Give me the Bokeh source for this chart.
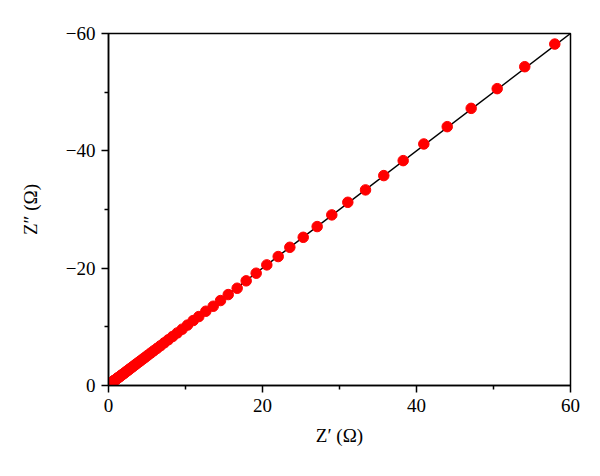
from bokeh.plotting import figure
from bokeh.models import Range1d, FixedTicker
from bokeh.embed import file_html
from bokeh.resources import INLINE

# Impedance data (Z' real part, Z'' imaginary part, in ohm)
z_re = [0.45, 0.50, 0.55, 0.60, 0.66, 0.72, 0.79, 0.86, 0.94, 1.02,
        1.10, 1.19, 1.29, 1.39, 1.50, 1.62, 1.75, 1.89, 2.04, 2.20,
        2.37, 2.55, 2.74, 2.94, 3.15, 3.38, 3.62, 3.88, 4.16, 4.46,
        4.78, 5.12, 5.49, 5.88, 6.31, 6.76, 7.25, 7.77, 8.33, 8.93,
        9.57, 10.26, 11.00, 11.73, 12.64, 13.60, 14.55, 15.55, 16.71, 17.88,
        19.18, 20.56, 22.04, 23.55, 25.29, 27.10, 29.00, 31.08, 33.38, 35.75,
        38.27, 40.95, 43.99, 47.10, 50.48, 54.06, 57.96]
z_im = [-0.55, -0.60, -0.65, -0.70, -0.76, -0.82, -0.88, -0.95, -1.02, -1.10,
        -1.18, -1.27, -1.36, -1.46, -1.57, -1.69, -1.82, -1.95, -2.10, -2.26,
        -2.43, -2.61, -2.80, -3.00, -3.21, -3.44, -3.68, -3.94, -4.21, -4.51,
        -4.83, -5.17, -5.53, -5.92, -6.34, -6.79, -7.28, -7.80, -8.36, -8.96,
        -9.60, -10.30, -11.07, -11.75, -12.66, -13.51, -14.48, -15.50, -16.58, -17.84,
        -19.14, -20.56, -21.98, -23.56, -25.26, -27.09, -29.08, -31.23, -33.34, -35.78,
        -38.33, -41.17, -44.12, -47.24, -50.60, -54.34, -58.20]

# Linear fit line
fit_re = [0, 60]
fit_im = [0, -60]

x_ticks = [0, 20, 40, 60]
x_minor = [10, 30, 50]
y_ticks = [0, -20, -40, -60]
y_minor = [-10, -30, -50]
y_labels = {0: "0", -20: "\u221220", -40: "\u221240", -60: "\u221260"}

FONT = "Liberation Serif"

p = figure(width=592, height=460, output_backend="svg", toolbar_location=None,
           x_range=Range1d(0, 60), y_range=Range1d(0, -60),
           min_border_left=108, min_border_right=22, min_border_top=33,
           min_border_bottom=75)

p.line(fit_re, fit_im, line_color="black", line_width=1.5)
p.scatter(z_re, z_im, size=10.5, fill_color="#ff0000", line_color="#ff0000")

p.grid.visible = False
p.outline_line_color = "black"
p.outline_line_width = 1.5
p.background_fill_color = "white"

p.xaxis.ticker = FixedTicker(ticks=x_ticks, minor_ticks=x_minor)
p.yaxis.ticker = FixedTicker(ticks=y_ticks, minor_ticks=y_minor)
p.yaxis.major_label_overrides = y_labels

p.xaxis.axis_label = "Z\u2032 (\u03a9)"
p.yaxis.axis_label = "Z\u2033 (\u03a9)"

for ax in (p.xaxis[0], p.yaxis[0]):
    ax.axis_line_width = 1.5
    ax.axis_line_color = "black"
    ax.major_tick_in = 0
    ax.major_tick_out = 7
    ax.minor_tick_in = 0
    ax.minor_tick_out = 4
    ax.major_tick_line_width = 1.5
    ax.minor_tick_line_width = 1.5
    ax.major_label_text_font = FONT
    ax.major_label_text_font_size = "19px"
    ax.major_label_text_color = "black"
    ax.axis_label_text_font = FONT
    ax.axis_label_text_font_size = "19px"
    ax.axis_label_text_font_style = "normal"
    ax.axis_label_text_color = "black"
    ax.major_label_standoff = 6

p.xaxis.axis_label_standoff = 10
p.yaxis.axis_label_standoff = 22

open("out.html", "w").write(file_html(p, INLINE))
